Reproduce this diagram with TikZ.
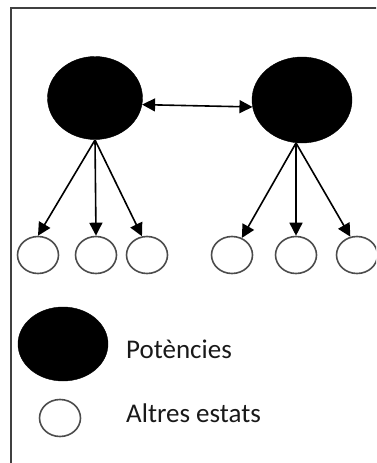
\documentclass[tikz,border=0pt]{standalone}
\usepackage{fontspec}
\setmainfont{Carlito}
\usetikzlibrary{shapes.geometric, arrows.meta}

\begin{document}
\begin{tikzpicture}[x=1pt, y=-1pt,
    >={Triangle[length=13pt, width=13pt]},
    power/.style={ellipse, draw=black, fill=black, inner sep=0pt},
    other/.style={ellipse, draw=black!70, line width=1.6pt, fill=white,
                  minimum width=41pt, minimum height=37pt, inner sep=0pt},
    arr/.style={->, line width=1.6pt},
    lbl/.style={anchor=base west, inner sep=0pt,
                font=\fontsize{27}{31}\selectfont, text=black!90},
  ]
    \useasboundingbox (0,0) rectangle (376,463);
    \clip (0,0) rectangle (376,463);
    % outer frame, cut off at right and bottom
    \draw[black!75, line width=2pt] (11,8) rectangle (400,490);
    \node[power, minimum width=95pt, minimum height=83pt]  (L) at (95,98)  {};
    \node[power, minimum width=100pt, minimum height=86pt] (R) at (302,100) {};
    \draw[<->, line width=1.6pt] (L.-8) -- (R.188);
    \foreach \n/\x in {a1/38,a2/96,a3/147,b1/232,b2/296,b3/357}
      \node[other] (\n) at (\x,255) {};
    \coordinate (Lb) at (95,140);
    \coordinate (Rb) at (296,143);
    \foreach \a in {a1.north,a2.north,a3.105} \draw[arr] (Lb) -- (\a);
    \foreach \a in {b1.60,b2.north,b3.110} \draw[arr] (Rb) -- (\a);
    % legend
    \node[power, minimum width=90pt, minimum height=74pt] (kP) at (63,344) {};
    \node[other] (kA) at (60,418) {};
    \node[lbl] (tP) at (126,358) {Potències};
    \node[lbl] (tA) at (126,422) {Altres estats};
  \end{tikzpicture}
\end{document}
